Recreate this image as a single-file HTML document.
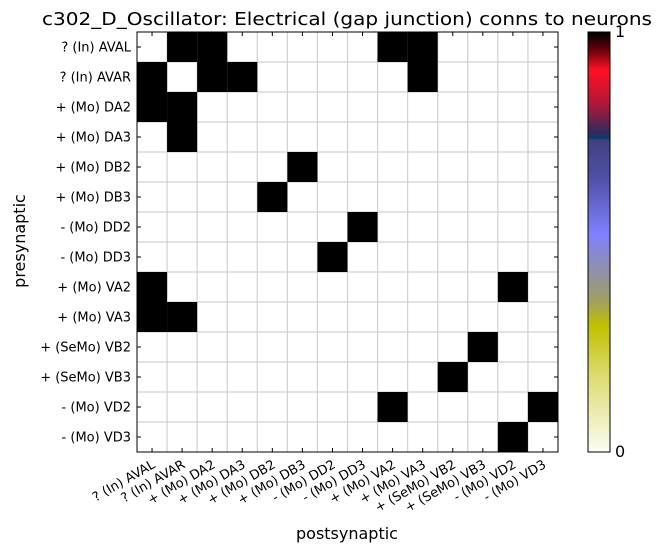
<!DOCTYPE html>
<html><head><meta charset="utf-8"><style>
body{margin:0;background:#fff;width:663px;height:553px;overflow:hidden;font-family:"DejaVu Sans","Liberation Sans",sans-serif}
</style></head><body>
<svg width="663" height="553" xmlns="http://www.w3.org/2000/svg" font-family="DejaVu Sans, Liberation Sans, sans-serif">
<defs>
<linearGradient id="cm" x1="0" y1="0" x2="0" y2="1">
<stop offset="0" stop-color="#000000"/>
<stop offset="0.04" stop-color="#600008"/>
<stop offset="0.09" stop-color="#ff1020"/>
<stop offset="0.17" stop-color="#b01838"/>
<stop offset="0.24" stop-color="#302a60"/>
<stop offset="0.255" stop-color="#0a3c78"/>
<stop offset="0.256" stop-color="#404080"/>
<stop offset="0.35" stop-color="#5050a8"/>
<stop offset="0.48" stop-color="#8080ff"/>
<stop offset="0.57" stop-color="#9090a8"/>
<stop offset="0.64" stop-color="#a0a060"/>
<stop offset="0.70" stop-color="#c0c000"/>
<stop offset="0.82" stop-color="#dcdc70"/>
<stop offset="1" stop-color="#fcfcf4"/>
</linearGradient>
</defs>
<text x="347" y="25" font-size="18" text-anchor="middle" textLength="610" lengthAdjust="spacingAndGlyphs">c302_D_Oscillator: Electrical (gap junction) conns to neurons</text>
<g id="plot"></g>
<rect x="588" y="32" width="22" height="420" fill="url(#cm)" stroke="#000" stroke-width="1"/>
<text x="615" y="37" font-size="16">1</text>
<text x="615" y="457" font-size="16">0</text>
<text x="25" y="241" font-size="16" text-anchor="middle" transform="rotate(-90 25 241)">presynaptic</text>
<text x="347" y="539" font-size="16" text-anchor="middle">postsynaptic</text>
</svg>
<script>
const labels = ["? (In) AVAL","? (In) AVAR","+ (Mo) DA2","+ (Mo) DA3","+ (Mo) DB2","+ (Mo) DB3","- (Mo) DD2","- (Mo) DD3","+ (Mo) VA2","+ (Mo) VA3","+ (SeMo) VB2","+ (SeMo) VB3","- (Mo) VD2","- (Mo) VD3"];
const connRows = [0,0,0,0,1,1,1,1,2,2,3,4,5,6,7,8,8,9,9,10,11,12,12,13];
const connCols = [1,2,8,9,0,2,3,9,0,1,1,5,4,7,6,0,12,0,1,11,10,8,13,12];
const connVals = [1,1,1,1,1,1,1,1,1,1,1,1,1,1,1,1,1,1,1,1,1,1,1,1];
const NS="http://www.w3.org/2000/svg";
const g=document.getElementById('plot');
const X0=137,Y0=32,W=421,H=420,n=labels.length,cw=W/n,ch=H/n;
const xs=i=>X0+i*cw, ys=i=>Y0+i*ch;
function mk(t,a){const e=document.createElementNS(NS,t);for(const k in a)e.setAttribute(k,a[k]);g.appendChild(e);return e;}
mk('rect',{x:X0,y:Y0,width:W,height:H,fill:'#fff'});
for(let i=1;i<n;i++){
  mk('line',{x1:xs(i),y1:Y0,x2:xs(i),y2:Y0+H,stroke:'#d0d0d0','stroke-width':1.2});
  mk('line',{x1:X0,y1:ys(i),x2:X0+W,y2:ys(i),stroke:'#d0d0d0','stroke-width':1.2});
}
for(let k=0;k<connRows.length;k++){
  const v=connVals[k];
  const r=mk('rect',{x:xs(connCols[k]),y:ys(connRows[k]),width:cw,height:ch,fill:v>0?'#000':'#fff'});
  
  
}
mk('rect',{x:X0,y:Y0,width:W,height:H,fill:'none',stroke:'#000','stroke-width':1});
for(let i=0;i<n;i++){
  const cx=xs(i)+cw/2, cy=ys(i)+ch/2;
  mk('line',{x1:cx,y1:Y0,x2:cx,y2:Y0+4,stroke:'#000'});
  mk('line',{x1:cx,y1:Y0+H,x2:cx,y2:Y0+H-4,stroke:'#000'});
  mk('line',{x1:X0,y1:cy,x2:X0+4,y2:cy,stroke:'#000'});
  mk('line',{x1:X0+W,y1:cy,x2:X0+W-4,y2:cy,stroke:'#000'});
  const yl=mk('text',{x:X0-6,y:cy+4.5,'font-size':13,'text-anchor':'end'});
  yl.textContent=labels[i];
  
  
  const xl=mk('text',{x:cx+4,y:Y0+H+15,'font-size':13,'text-anchor':'end',transform:`rotate(-30 ${cx+4} ${Y0+H+15})`});
  xl.textContent=labels[i];
  
  
}
</script>
</body></html>
